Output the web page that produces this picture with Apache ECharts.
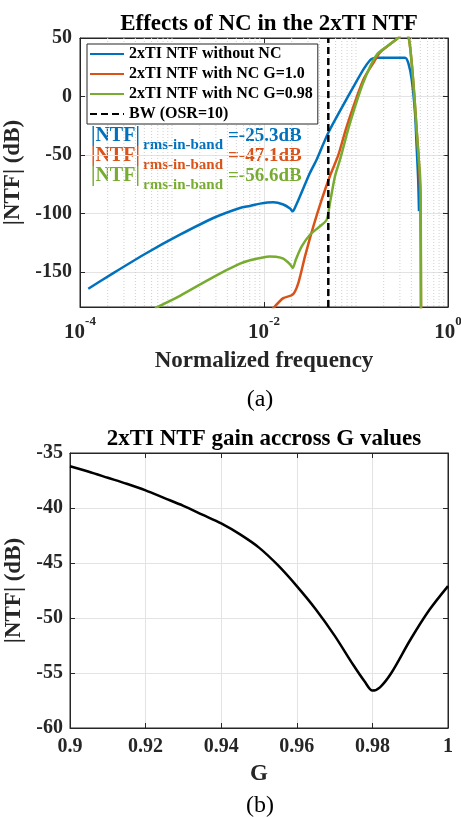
<!DOCTYPE html>
<html>
<head>
<meta charset="utf-8">
<script src="https://cdn.jsdelivr.net/npm/echarts@6/dist/echarts.min.js"></script>
<style>
  html, body { margin: 0; padding: 0; background: #ffffff; }
  #chart { width: 461px; height: 818px; }
</style>
</head>
<body>
<div id="chart"></div>
<script>
// ---- (a) |NTF| versus normalized frequency ----
const seriesNames = ['2xTI NTF without NC', '2xTI NTF with NC G=1.0', '2xTI NTF with NC G=0.98', 'BW (OSR=10)'];

const freqNoNC = [1.23e-4, 2.30e-4, 5.31e-4, 1.22e-3, 2.81e-3, 5.48e-3, 7.05e-3, 9.06e-3, 1.26e-2, 1.62e-2,
  1.92e-2, 2.05e-2, 2.23e-2, 2.46e-2, 3.16e-2, 3.74e-2, 5.00e-2, 8.61e-2, 0.120, 0.142,
  0.153, 0.165, 0.341, 0.370, 0.403, 0.438, 0.456, 0.474, 0.484];
const dbNoNC = [-164.4, -151.0, -133.8, -118.2, -103.9, -95.3, -93.6, -91.6, -90.5, -92.4,
  -95.8, -98.2, -93.0, -85.4, -65.3, -53.9, -31.0, 3.0, 23.0, 31.0,
  32.6, 33.2, 33.2, 28.8, 14.6, -14.0, -42.6, -71.0, -98.0];

const freqG100 = [1.23e-2, 1.62e-2, 2.05e-2, 2.36e-2, 2.79e-2, 3.44e-2, 4.24e-2, 5.21e-2, 6.43e-2, 7.92e-2,
  0.120, 0.154, 0.182, 0.234, 0.286, 0.324, 0.370, 0.403, 0.431, 0.456,
  0.484, 0.501, 0.509];
const dbG100 = [-182.0, -172.4, -169.5, -159.5, -136.7, -111.0, -88.2, -68.0, -50.0, -25.7,
  14.3, 28.6, 37.5, 44.6, 50.0, 54.0, 51.6, 28.8, 0.0, -28.0,
  -57.0, -90.0, -182.0];

const freqG098 = [6.53e-4, 1.22e-3, 2.81e-3, 5.48e-3, 7.05e-3, 9.06e-3, 1.16e-2, 1.35e-2, 1.62e-2, 1.92e-2,
  2.05e-2, 2.23e-2, 2.57e-2, 3.16e-2, 4.06e-2, 4.81e-2, 5.21e-2, 5.92e-2, 6.70e-2, 8.61e-2,
  0.120, 0.168, 0.234, 0.286, 0.324, 0.370, 0.403, 0.431, 0.456, 0.484,
  0.497, 0.505, 0.509];
const dbG098 = [-181.0, -170.4, -154.4, -143.0, -140.0, -138.1, -136.8, -137.0, -138.6, -143.5,
  -146.7, -139.0, -128.2, -118.2, -111.0, -105.3, -91.0, -68.0, -54.0, -22.6,
  12.0, 35.7, 44.6, 50.0, 54.0, 51.6, 28.8, 0.3, -28.3, -56.8,
  -68.0, -85.0, -182.0];

// Signal band edge: 0.5 / OSR
const osr = 10;
const bandEdge = 0.5 / osr;

const freqTicks = [1e-4, 1e-2, 1];
const ntfTicks = [-150, -100, -50, 0, 50];

// In-band rms noise gain for each configuration
const rmsInBand = [-25.3, -47.1, -56.6];

// ---- (b) in-band NTF gain versus G ----
const gValues = [0.900, 0.905, 0.910, 0.915, 0.920, 0.925, 0.930, 0.935, 0.940, 0.945,
  0.950, 0.955, 0.960, 0.965, 0.970, 0.975, 0.978, 0.980, 0.982, 0.985,
  0.990, 0.995, 1.000];
const gainDb = [-36.2, -36.7, -37.25, -37.8, -38.4, -39.1, -39.8, -40.6, -41.4, -42.4,
  -43.6, -45.2, -47.1, -49.2, -51.6, -54.3, -55.8, rmsInBand[2], -56.3, -55.0,
  -52.0, -49.3, rmsInBand[1]];

const FONT = '"Liberation Serif", "Times New Roman", serif';
const INK = '#262626';
const COLORS = ['#0072BD', '#D95319', '#77AC30', '#000000'];

const zip = (xs, ys) => xs.map((x, i) => [x, ys[i]]);

// dotted minor grid of the log axis: 2..9 of every decade, plus the unlabeled decades
const minorGridFreqs = [];
for (let e = -4; e < 0; e++) {
  for (let k = 1; k <= 9; k++) {
    if (k === 1 && (e % 2 === 0)) continue;
    minorGridFreqs.push([k * Math.pow(10, e), 0]);
  }
}

function renderMinorGrid(params, api) {
  const x = api.coord([api.value(0), 0])[0];
  const cs = params.coordSys;
  return {
    type: 'line',
    shape: { x1: x, y1: cs.y, x2: x, y2: cs.y + cs.height },
    style: { stroke: '#cfcfcf', lineWidth: 1, lineDash: [1, 2] },
    silent: true
  };
}

const tickLabel = { fontFamily: FONT, fontWeight: 'bold', fontSize: 20, color: INK };
const frameLine = { show: true, onZero: false, lineStyle: { color: INK, width: 1 } };

function boxAxisX(gridIndex, type, min, max, extra) {
  return Object.assign({
    type: type, gridIndex: gridIndex, position: 'top', min: min, max: max,
    axisLine: frameLine,
    axisTick: { show: true, inside: true, length: 5, lineStyle: { color: INK } },
    axisLabel: { show: false }, splitLine: { show: false }
  }, extra || {});
}
function boxAxisY(gridIndex, min, max, extra) {
  return Object.assign({
    type: 'value', gridIndex: gridIndex, position: 'right', min: min, max: max,
    axisLine: frameLine,
    axisTick: { show: true, inside: true, length: 5, lineStyle: { color: INK } },
    axisLabel: { show: false }, splitLine: { show: false }
  }, extra || {});
}

const chart = echarts.init(document.getElementById('chart'), null, { renderer: 'canvas' });

const annotations = [];
const annoRows = [136, 156, 176];
rmsInBand.forEach((v, i) => {
  const c = COLORS[i];
  const y = annoRows[i];
  annotations.push({ type: 'text', x: 91, y: y, style: { text: '|NTF|', fill: c, font: 'bold 20px ' + FONT, align: 'left', verticalAlign: 'middle' } });
  annotations.push({ type: 'text', x: 143, y: y + 9, style: { text: 'rms-in-band', fill: c, font: 'bold 15px ' + FONT, align: 'left', verticalAlign: 'middle' } });
  annotations.push({ type: 'text', x: 228, y: y, style: { text: '=' + v.toFixed(1) + 'dB', fill: c, font: 'bold 19px ' + FONT, align: 'left', verticalAlign: 'middle' } });
});

const option = {
  backgroundColor: '#ffffff',
  animation: false,
  title: [
    { text: 'Effects of NC in the 2xTI NTF', left: 264, top: 8, textAlign: 'center',
      textStyle: { fontFamily: FONT, fontWeight: 'bold', fontSize: 23, color: '#000' } },
    { text: '2xTI NTF gain accross G values', left: 259, top: 423, textAlign: 'center',
      textStyle: { fontFamily: FONT, fontWeight: 'bold', fontSize: 23, color: '#000' } }
  ],
  legend: {
    data: seriesNames,
    orient: 'vertical', left: 87, top: 44,
    itemWidth: 34, itemHeight: 14, itemGap: 4,
    padding: [2, 5, 2, 2],
    borderColor: INK, borderWidth: 1, backgroundColor: '#ffffff',
    itemStyle: { opacity: 0 },
    textStyle: { fontFamily: FONT, fontWeight: 'bold', fontSize: 16, color: '#000', lineHeight: 16 }
  },
  grid: [
    { left: 80, top: 38, width: 368, height: 269, show: true, borderColor: INK, borderWidth: 1,
      backgroundColor: '#ffffff', containLabel: false, outerBoundsMode: 'none' },
    { left: 70, top: 453, width: 378, height: 275, show: true, borderColor: INK, borderWidth: 1,
      backgroundColor: '#ffffff', containLabel: false, outerBoundsMode: 'none' }
  ],
  xAxis: [
    {
      type: 'log', logBase: 10, gridIndex: 0, min: 1e-4, max: 1,
      name: 'Normalized frequency', nameLocation: 'middle', nameGap: 43,
      nameTextStyle: { fontFamily: FONT, fontWeight: 'bold', fontSize: 23, color: INK },
      axisLine: frameLine,
      axisTick: { show: true, inside: true, length: 5, customValues: freqTicks, lineStyle: { color: INK } },
      axisLabel: {
        customValues: freqTicks, margin: 8,
        formatter: (v) => '{b|10}{e|' + Math.round(Math.log10(v)) + '}',
        rich: {
          b: { fontFamily: FONT, fontWeight: 'bold', fontSize: 21, color: INK, lineHeight: 28, verticalAlign: 'bottom' },
          e: { fontFamily: FONT, fontWeight: 'bold', fontSize: 13, color: INK, lineHeight: 14, verticalAlign: 'top' }
        }
      },
      splitLine: { show: true, lineStyle: { color: '#e3e3e3', width: 1 } }
    },
    boxAxisX(0, 'log', 1e-4, 1, { logBase: 10, axisTick: { show: true, inside: true, length: 5, customValues: freqTicks, lineStyle: { color: INK } } }),
    {
      type: 'value', gridIndex: 1, min: 0.9, max: 1, interval: 0.02,
      name: 'G', nameLocation: 'middle', nameGap: 35,
      nameTextStyle: { fontFamily: FONT, fontWeight: 'bold', fontSize: 23, color: INK },
      axisLine: frameLine,
      axisTick: { show: true, inside: true, length: 5, lineStyle: { color: INK } },
      axisLabel: Object.assign({ margin: 9, showMinLabel: true, showMaxLabel: true }, tickLabel),
      splitLine: { show: true, lineStyle: { color: '#e3e3e3', width: 1 } }
    },
    boxAxisX(1, 'value', 0.9, 1, { interval: 0.02 })
  ],
  yAxis: [
    {
      type: 'value', gridIndex: 0, min: -180, max: 50,
      name: '|NTF| (dB)', nameLocation: 'middle', nameGap: 46, nameRotate: 90,
      nameTextStyle: { fontFamily: FONT, fontWeight: 'bold', fontSize: 23, color: INK },
      axisLine: frameLine,
      axisTick: { show: true, inside: true, length: 5, customValues: ntfTicks, lineStyle: { color: INK } },
      axisLabel: Object.assign({ customValues: ntfTicks, margin: 8 }, tickLabel),
      splitLine: { show: true, lineStyle: { color: '#e3e3e3', width: 1 } }
    },
    boxAxisY(0, -180, 50, { axisTick: { show: true, inside: true, length: 5, customValues: ntfTicks, lineStyle: { color: INK } } }),
    {
      type: 'value', gridIndex: 1, min: -60, max: -35, interval: 5,
      name: '|NTF| (dB)', nameLocation: 'middle', nameGap: 36, nameRotate: 90,
      nameTextStyle: { fontFamily: FONT, fontWeight: 'bold', fontSize: 23, color: INK },
      axisLine: frameLine,
      axisTick: { show: true, inside: true, length: 5, lineStyle: { color: INK } },
      axisLabel: Object.assign({ margin: 7 }, tickLabel),
      splitLine: { show: true, lineStyle: { color: '#e3e3e3', width: 1 } }
    },
    boxAxisY(1, -60, -35, { interval: 5 })
  ],
  graphic: annotations.concat([
    { type: 'text', x: 260, y: 400, style: { text: '(a)', fill: '#000', font: '24px ' + FONT, align: 'center', verticalAlign: 'middle' } },
    { type: 'text', x: 260, y: 806, style: { text: '(b)', fill: '#000', font: '24px ' + FONT, align: 'center', verticalAlign: 'middle' } }
  ]),
  series: [
    {
      name: 'minor grid', type: 'custom', xAxisIndex: 0, yAxisIndex: 0,
      data: minorGridFreqs, renderItem: renderMinorGrid, z: 1, silent: true,
      encode: { x: 0, y: 1 }
    },
    {
      name: seriesNames[0], type: 'line', xAxisIndex: 0, yAxisIndex: 0,
      data: zip(freqNoNC, dbNoNC), showSymbol: false, symbol: 'none', smooth: 0.25, clip: true,
      lineStyle: { color: COLORS[0], width: 2.5 }, itemStyle: { color: COLORS[0] }, z: 3
    },
    {
      name: seriesNames[1], type: 'line', xAxisIndex: 0, yAxisIndex: 0,
      data: zip(freqG100, dbG100), showSymbol: false, symbol: 'none', smooth: 0.25, clip: true,
      lineStyle: { color: COLORS[1], width: 2.5 }, itemStyle: { color: COLORS[1] }, z: 4
    },
    {
      name: seriesNames[2], type: 'line', xAxisIndex: 0, yAxisIndex: 0,
      data: zip(freqG098, dbG098), showSymbol: false, symbol: 'none', smooth: 0.25, clip: true,
      lineStyle: { color: COLORS[2], width: 2.5 }, itemStyle: { color: COLORS[2] }, z: 5
    },
    {
      name: seriesNames[3], type: 'line', xAxisIndex: 0, yAxisIndex: 0,
      data: [[bandEdge, -180], [bandEdge, 50]], showSymbol: false, symbol: 'none',
      lineStyle: { color: COLORS[3], width: 2.5, type: [7, 4] }, itemStyle: { color: COLORS[3] }, z: 6
    },
    {
      name: 'NTF gain', type: 'line', xAxisIndex: 2, yAxisIndex: 2,
      data: zip(gValues, gainDb), showSymbol: false, symbol: 'none', smooth: 0.3, clip: true,
      lineStyle: { color: '#000000', width: 2.5 }, itemStyle: { color: '#000000' }
    }
  ]
};

chart.setOption(option);
</script>
</body>
</html>
